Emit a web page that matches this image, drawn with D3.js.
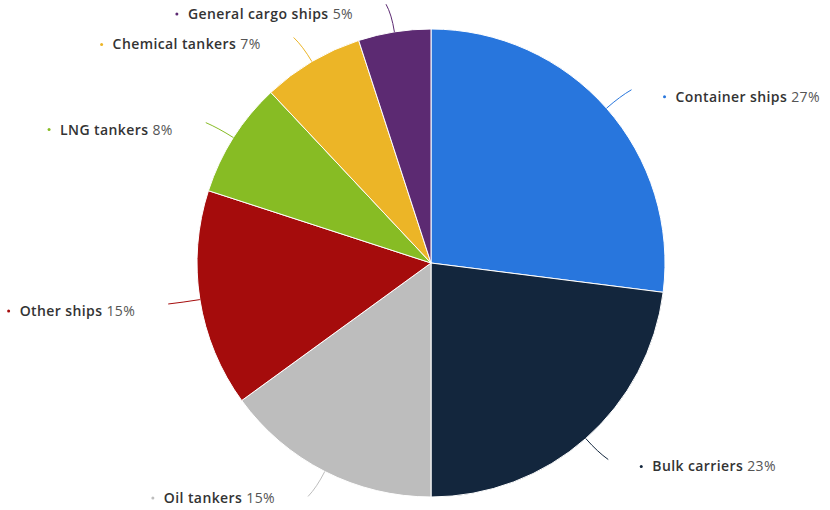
<!DOCTYPE html>
<html>
<head>
<meta charset="utf-8">
<script src="https://cdn.jsdelivr.net/npm/d3@7"></script>
<style>
  body { margin: 0; background: #fff; }
  svg { display: block; }
  text { font-family: "Open Sans", sans-serif; font-size: 14px; letter-spacing: 0.4px; }
</style>
</head>
<body>
<script>
const categories = ["Container ships", "Bulk carriers", "Oil tankers", "Other ships", "LNG tankers", "Chemical tankers", "General cargo ships"];
const shares = [27, 23, 15, 15, 8, 7, 5];
const colors = ["#2876dd", "#13263d", "#bdbdbd", "#a50c0c", "#87bc24", "#ecb527", "#5c2a72"];

const width = 830;
const height = 510;
const cx = 431, cy = 263, radius = 234;

const dataset = categories.map((c, i) => ({ name: c, value: shares[i], color: colors[i] }));

const svg = d3.select("body").append("svg")
  .attr("width", width)
  .attr("height", height);

const pie = d3.pie().value((d) => d.value).sort(null);
const arcs = pie(dataset);
const arc = d3.arc().innerRadius(0).outerRadius(radius);

const g = svg.append("g").attr("transform", `translate(${cx},${cy})`);

g.selectAll("path.slice")
  .data(arcs)
  .enter()
  .append("path")
  .attr("class", "slice")
  .attr("d", arc)
  .attr("fill", (d) => d.data.color)
  .attr("stroke", "#fff")
  .attr("stroke-width", 1);

// connectors + labels
const polar = (a, r) => [Math.sin(a) * r, -Math.cos(a) * r];

arcs.forEach((d) => {
  const a = (d.startAngle + d.endAngle) / 2;
  const side = Math.sin(a) >= 0 ? 1 : -1;
  const s = polar(a, radius);
  const c = polar(a, radius + 18);
  const e = polar(a, radius + 28);
  e[0] += side * 4;

  g.append("path")
    .attr("d", `M${s[0]},${s[1]} Q${c[0]},${c[1]} ${e[0]},${e[1]}`)
    .attr("fill", "none")
    .attr("stroke", d.data.color)
    .attr("stroke-width", 1);

  const lx = e[0] + side * 33;
  const ly = Math.min(Math.max(e[1] + 7, 14 - cy), height - 12 - cy);

  const t = g.append("text")
    .attr("x", lx + (side > 0 ? 11 : 0))
    .attr("y", ly)
    .attr("dy", "0.35em")
    .attr("text-anchor", side > 0 ? "start" : "end");
  t.append("tspan").attr("font-weight", 600).attr("fill", "#333").text(d.data.name + " ");
  t.append("tspan").attr("fill", "#555").text(d.data.value + "%");

  const bb = t.node().getBBox();
  const bx = side > 0 ? lx : bb.x - 11;
  g.append("circle")
    .attr("cx", bx)
    .attr("cy", ly)
    .attr("r", 1.5)
    .attr("fill", d.data.color);
});
</script>
</body>
</html>
